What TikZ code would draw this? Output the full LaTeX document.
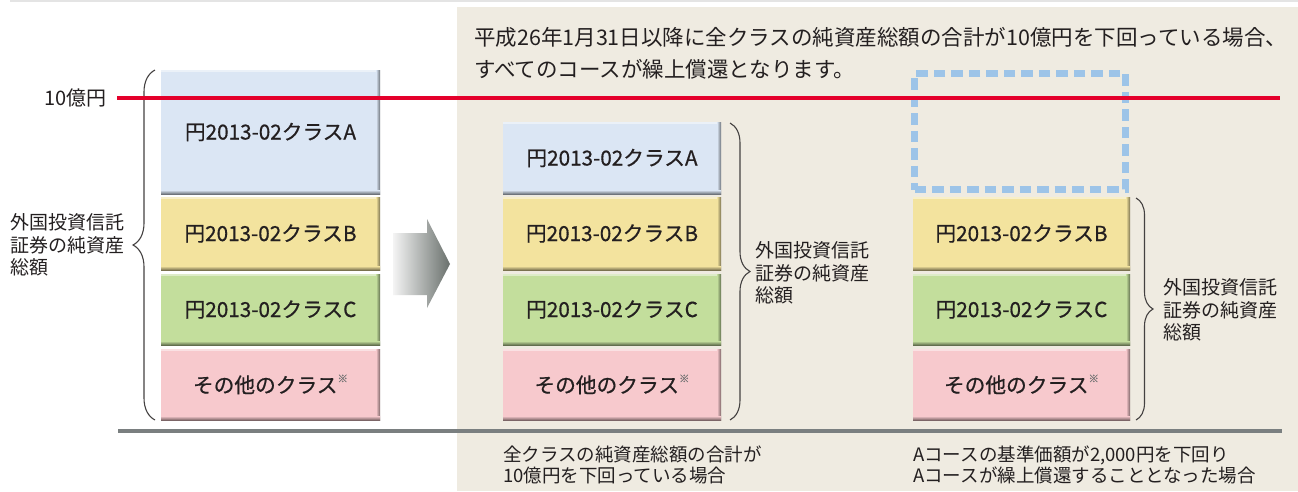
\documentclass[tikz,border=0pt]{standalone}
\usepackage{fontspec}
\setmainfont{Noto Sans CJK JP}
\newfontfamily\boxfont{Noto Sans CJK JP}[FakeBold=0.6]
\usetikzlibrary{decorations.pathreplacing}
\definecolor{beige}{RGB}{239,235,225}
\definecolor{boxA}{RGB}{219,230,244}
\definecolor{boxB}{RGB}{243,227,158}
\definecolor{boxC}{RGB}{195,222,156}
\definecolor{boxD}{RGB}{247,201,205}
\definecolor{redln}{RGB}{228,0,43}
\definecolor{grayln}{RGB}{122,127,128}
\definecolor{dashblue}{RGB}{157,196,232}
\definecolor{txt}{RGB}{35,31,32}
\definecolor{arrlight}{RGB}{244,244,244}
\definecolor{arrdark}{RGB}{105,112,108}
\definecolor{topln}{RGB}{228,228,228}
\tikzset{
  cls/.style={rectangle, inner sep=0pt, fill=#1, text=txt,
    font=\boxfont\fontsize{20.7}{24}\selectfont,
    path picture={
      \fill[white,opacity=.45] (path picture bounding box.north west) rectangle ([yshift=-2pt]path picture bounding box.north east);
      \shade[left color=#1, right color=#1!50!black] ([xshift=-4pt]path picture bounding box.north east) rectangle (path picture bounding box.south east);
      \shade[top color=#1, bottom color=#1!50!black] (path picture bounding box.south west) rectangle ([yshift=4pt]path picture bounding box.south east);
    }},
  lbl/.style={inner sep=0pt, align=left, text=txt, font=\fontsize{19}{22.5}\selectfont},
  brc/.style={draw=txt!85, line width=1.1pt, decorate},
  redline/.style={draw=redln, line width=3.5pt},
  baseline/.style={draw=grayln, line width=3.8pt},
  dashbox/.style={draw=dashblue, line width=7pt, dash pattern=on 11.5pt off 6pt, inner sep=0pt},
}
\newcommand{\kome}{\raisebox{0.5em}{\fontsize{10.5}{10.5}\selectfont\color{black!55}※}}
\begin{document}
\begin{tikzpicture}[x=1pt,y=-1pt]
\useasboundingbox (0,0) rectangle (1298,491);
% background
\fill[white] (0,0) rectangle (1298,491);
\draw[topln, line width=1.5pt] (10,0.75) -- (1298,0.75);
\fill[beige] (457,7) rectangle (1298,491);

% top text
\node[lbl, anchor=west, font=\fontsize{21.5}{32}\selectfont] (title) at (474,53)
  {平成26年1月31日以降に全クラスの純資産総額の合計が10億円を下回っている場合、\\すべてのコースが繰上償還となります。};

% left column
\node[cls=boxA, minimum width=219pt, minimum height=124pt] (lA) at (270.5,132) {円2013-02クラスA};
\node[cls=boxB, minimum width=219pt, minimum height=73pt] (lB) at (270.5,233.5) {円2013-02クラスB};
\node[cls=boxC, minimum width=219pt, minimum height=71pt] (lC) at (270.5,309.5) {円2013-02クラスC};
\node[cls=boxD, minimum width=219pt, minimum height=71pt] (lD) at (270.5,384.5) {その他のクラス\kome};

% middle column
\node[cls=boxA, minimum width=218pt, minimum height=72pt] (mA) at (612,158) {円2013-02クラスA};
\node[cls=boxB, minimum width=218pt, minimum height=73pt] (mB) at (612,233.5) {円2013-02クラスB};
\node[cls=boxC, minimum width=218pt, minimum height=71pt] (mC) at (612,309.5) {円2013-02クラスC};
\node[cls=boxD, minimum width=218pt, minimum height=71pt] (mD) at (612,384.5) {その他のクラス\kome};

% right column
\node[dashbox, minimum width=211pt, minimum height=116pt] (rA) at (1020,131.5) {};
\node[cls=boxB, minimum width=217pt, minimum height=73pt] (rB) at (1021.5,233.5) {円2013-02クラスB};
\node[cls=boxC, minimum width=217pt, minimum height=71pt] (rC) at (1021.5,309.5) {円2013-02クラスC};
\node[cls=boxD, minimum width=217pt, minimum height=71pt] (rD) at (1021.5,384.5) {その他のクラス\kome};

% arrow
\shade[left color=arrlight, right color=arrdark] (393,233) -- (427,233) -- (427,219) -- (450,264) -- (427,308) -- (427,295) -- (393,295) -- cycle;

% braces
\coordinate (lbT) at (155,70);
\coordinate (lbB) at (155,420);
\draw[brc, decoration={brace, amplitude=22pt}] (lbB) -- (lbT);
\node[lbl, anchor=west] (lLab) at (10,245) {外国投資信託\\証券の純資産\\総額};

\coordinate (mbT) at (730,123);
\coordinate (mbB) at (730,420);
\draw[brc, decoration={brace, amplitude=20pt}] (mbT) -- (mbB);
\node[lbl, anchor=west] (mLab) at (755,273) {外国投資信託\\証券の純資産\\総額};

\coordinate (rbT) at (1136,198);
\coordinate (rbB) at (1136,420);
\draw[brc, decoration={brace, amplitude=17pt}] (rbT) -- (rbB);
\node[lbl, anchor=west] (rLab) at (1163,310) {外国投資信託\\証券の純資産\\総額};

% red line
\node[lbl, anchor=east, font=\fontsize{20}{22}\selectfont] (t10) at (107,98) {10億円};
\coordinate (redEnd) at (1280,98);
\draw[redline] ([xshift=10pt]t10.east) -- (redEnd);

% base line
\coordinate (g1) at (118,431);
\coordinate (g2) at (1282,431);
\draw[baseline] (g1) -- (g2);

% bottom captions
\node[lbl, anchor=west, font=\fontsize{18.5}{21.5}\selectfont] (cap1) at (503,465)
  {全クラスの純資産総額の合計が\\10億円を下回っている場合};
\node[lbl, anchor=west, font=\fontsize{18.5}{21.5}\selectfont] (cap2) at (913,465)
  {Aコースの基準価額が2,000円を下回り\\Aコースが繰上償還することとなった場合};
\end{tikzpicture}
\end{document}
